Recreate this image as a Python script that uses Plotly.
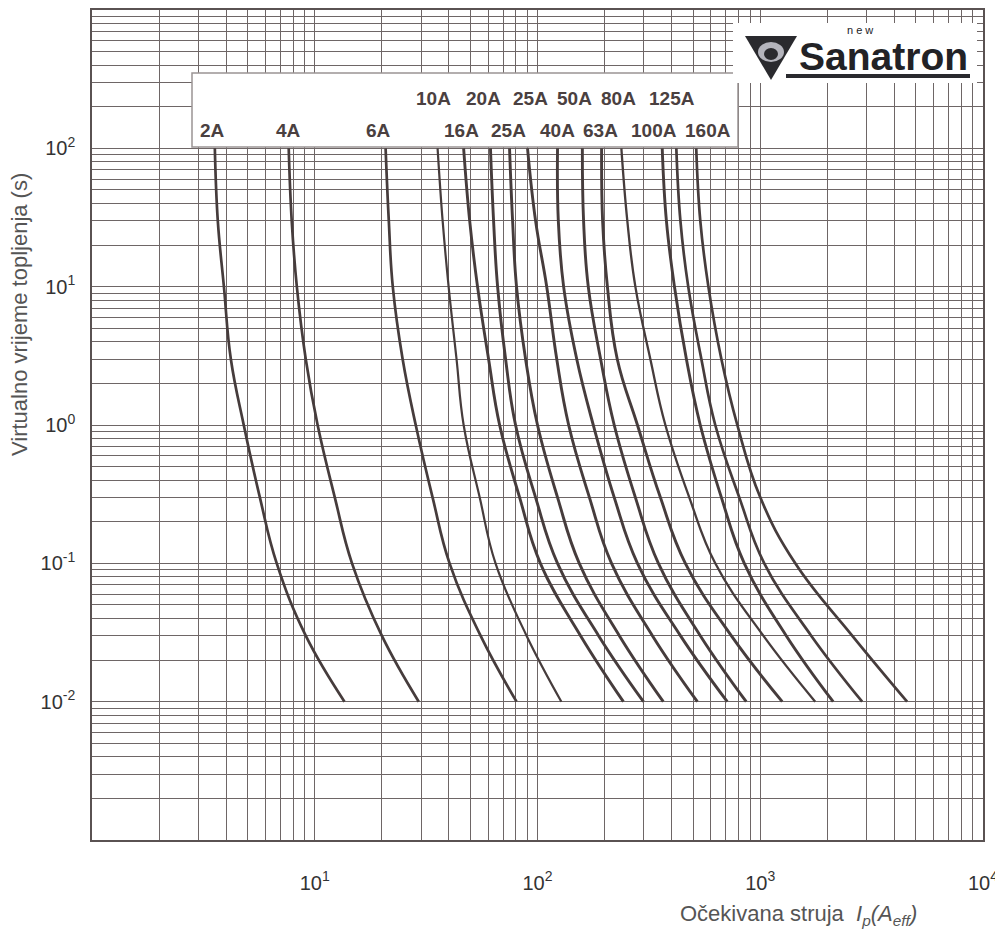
import plotly.graph_objects as go

# ---------------- data ----------------
melt_time_s = [100, 30, 10, 3, 1, 0.3, 0.1, 0.03, 0.01]

i_2A   = [3.56, 3.67, 3.91, 4.20, 4.80, 5.67, 6.75, 9.11, 13.6]
i_4A   = [7.64, 7.88, 8.31, 9.11, 10.3, 12.3, 14.7, 20.0, 29.3]
i_6A   = [20.8, 21.5, 22.4, 24.8, 28.4, 33.8, 40.3, 55.5, 80.5]
i_10A  = [35.6, 37.5, 39.9, 43.3, 46.6, 55.0, 64.8, 89.3, 128]
i_16A  = [46.6, 49.6, 53.8, 60.3, 67.6, 83.1, 103, 156, 243]
i_20A  = [61.5, 63.5, 66.2, 71.9, 79.7, 98.0, 123, 188, 299]
i_25A  = [74.9, 77.3, 80.5, 88.4, 100, 123, 154, 233, 367]
i_32A  = [90.2, 98.0, 110, 122, 138, 171, 215, 328, 522]
i_40A  = [123, 124, 131, 150, 178, 221, 281, 438, 711]
i_50A  = [159, 161, 169, 192, 221, 275, 349, 538, 865]
i_63A  = [194, 196, 206, 228, 281, 356, 461, 741, 1255]
i_80A  = [238, 253, 275, 321, 375, 480, 628, 1032, 1765]
i_100A = [363, 379, 412, 466, 538, 669, 848, 1308, 2125]
i_125A = [420, 438, 475, 544, 628, 805, 1042, 1693, 2867]
i_160A = [516, 538, 585, 669, 789, 1000, 1436, 2586, 4562]

curve_currents = [i_2A, i_4A, i_6A, i_10A, i_16A, i_20A, i_25A, i_32A,
                  i_40A, i_50A, i_63A, i_80A, i_100A, i_125A, i_160A]
curve_widths = [2.7, 2.7, 2.7, 2.2, 2.9, 2.9, 2.9, 2.9,
                2.9, 2.9, 2.9, 2.3, 2.9, 2.7, 2.7]

labels_top = ["10A", "20A", "25A", "50A", "80A", "125A"]
labels_bottom = ["2A", "4A", "6A", "16A", "25A", "40A", "63A", "100A", "160A"]

x_major = [10, 100, 1000, 10000]
x_tick_labels = ["10<sup>1</sup>", "10<sup>2</sup>", "10<sup>3</sup>", "10<sup>4</sup>"]
y_major = [100, 10, 1, 0.1, 0.01]
y_tick_labels = ["10<sup>2</sup>", "10<sup>1</sup>", "10<sup>0</sup>", "10<sup>-1</sup>", "10<sup>-2</sup>"]

# ---------------- layout helpers ----------------
# the page body has an 8 px margin, so the figure is made 8 px smaller
OFF = 8
W, H = 995, 926
L, R, T, B = 84, 20, 2, 94
PW, PH = W - L - R, H - T - B


def px(x):
    return (x - OFF - L) / PW


def py(y):
    return (OFF + T + PH - y) / PH


FONT = "Liberation Sans, Arial, sans-serif"
INK = "#463c3c"
GRID = "#6e6666"

fig = go.Figure()
for cur, w in zip(curve_currents, curve_widths):
    fig.add_trace(go.Scatter(x=cur, y=melt_time_s, mode="lines",
                             line=dict(color=INK, width=w, shape="spline", smoothing=1.2),
                             hoverinfo="skip", showlegend=False))

# minor grid values 1..9 x 10^k
x_grid = [m * 10 ** k for k in range(0, 4) for m in range(1, 10)] + [10000]
y_grid = [m * 10.0 ** k for k in range(-3, 3) for m in range(1, 10)] + [1000]

fig.update_layout(
    width=W, height=H,
    margin=dict(l=L, r=R, t=T, b=B, autoexpand=False),
    paper_bgcolor="white", plot_bgcolor="white",
    font=dict(family=FONT, color="#3a3a3a"),
    xaxis=dict(type="log", range=[0, 4], tickmode="array", tickvals=x_major, ticktext=x_tick_labels,
               showgrid=True, gridcolor=GRID, gridwidth=1, ticks="", automargin=False,
               minor=dict(tickmode="array", tickvals=x_grid, showgrid=True, gridcolor=GRID,
                          gridwidth=1, ticks=""),
               showline=True, linecolor="#5a5252", linewidth=1.5, mirror=True,
               tickfont=dict(size=20, color="#333"), ticklabelstandoff=24, zeroline=False),
    yaxis=dict(type="log", range=[-3, 3], tickmode="array", tickvals=y_major, ticktext=y_tick_labels,
               showgrid=True, gridcolor=GRID, gridwidth=1, ticks="", automargin=False,
               minor=dict(tickmode="array", tickvals=y_grid, showgrid=True, gridcolor=GRID,
                          gridwidth=1, ticks=""),
               showline=True, linecolor="#5a5252", linewidth=1.5, mirror=True,
               tickfont=dict(size=20, color="#333"), ticklabelstandoff=11, zeroline=False),
)

shapes = []
# legend box
shapes.append(dict(type="rect", xref="paper", yref="paper",
                   x0=px(192), x1=px(738), y0=py(147), y1=py(73),
                   fillcolor="white", line=dict(color="#9a9494", width=1.5), layer="above"))
# logo box
shapes.append(dict(type="rect", xref="paper", yref="paper",
                   x0=px(733), x1=px(977), y0=py(83), y1=py(23),
                   fillcolor="white", line=dict(width=0), layer="above"))
# logo triangle
tri = "M {},{} L {},{} L {},{} Z".format(px(745), py(36), px(797), py(36), px(771), py(80))
shapes.append(dict(type="path", xref="paper", yref="paper", path=tri,
                   fillcolor="#2a2a2e", line=dict(width=0), layer="above"))
shapes.append(dict(type="circle", xref="paper", yref="paper",
                   x0=px(758), x1=px(784), y0=py(62), y1=py(42),
                   fillcolor="#b4b4bc", line=dict(width=0), layer="above"))
shapes.append(dict(type="circle", xref="paper", yref="paper",
                   x0=px(764), x1=px(778), y0=py(60), y1=py(48),
                   fillcolor="#2a2a2e", line=dict(width=0), layer="above"))
# logo underline bar
shapes.append(dict(type="rect", xref="paper", yref="paper",
                   x0=px(786), x1=px(970), y0=py(78), y1=py(74),
                   fillcolor="#2a2a2e", line=dict(width=0), layer="above"))
fig.update_layout(shapes=shapes)

ann = []
top_x = [433, 483, 530, 574, 618, 672]
bot_x = [212, 288, 378, 461, 508, 557, 600, 654, 708]
for t, x in zip(labels_top, top_x):
    ann.append(dict(text="<b>%s</b>" % t, x=px(x), y=py(99), xref="paper", yref="paper",
                    showarrow=False, xanchor="center", yanchor="middle",
                    font=dict(size=19, color="#4a4040", family=FONT)))
for t, x in zip(labels_bottom, bot_x):
    ann.append(dict(text="<b>%s</b>" % t, x=px(x), y=py(131), xref="paper", yref="paper",
                    showarrow=False, xanchor="center", yanchor="middle",
                    font=dict(size=19, color="#4a4040", family=FONT)))
# logo text
ann.append(dict(text="<b>Sanatron</b>", x=px(883), y=py(56), xref="paper", yref="paper",
                showarrow=False, xanchor="center", yanchor="middle",
                font=dict(size=39, color="#222226", family=FONT)))
ann.append(dict(text="n e w", x=px(860), y=py(30), xref="paper", yref="paper",
                showarrow=False, xanchor="center", yanchor="middle",
                font=dict(size=11, color="#222226", family=FONT)))
# axis titles
ann.append(dict(text="Virtualno vrijeme topljenja (s)", x=px(19), y=py(315),
                xref="paper", yref="paper", showarrow=False, textangle=-90,
                xanchor="center", yanchor="middle",
                font=dict(size=22, color="#555", family=FONT)))
ann.append(dict(text="Očekivana struja  <i>I</i><sub><i>p</i></sub><i>(A</i><sub><i>eff</i></sub><i>)</i>",
                x=px(798), y=py(915), xref="paper", yref="paper", showarrow=False,
                xanchor="center", yanchor="middle",
                font=dict(size=22, color="#555", family=FONT)))
fig.update_layout(annotations=ann)

fig.write_html("out.html")
